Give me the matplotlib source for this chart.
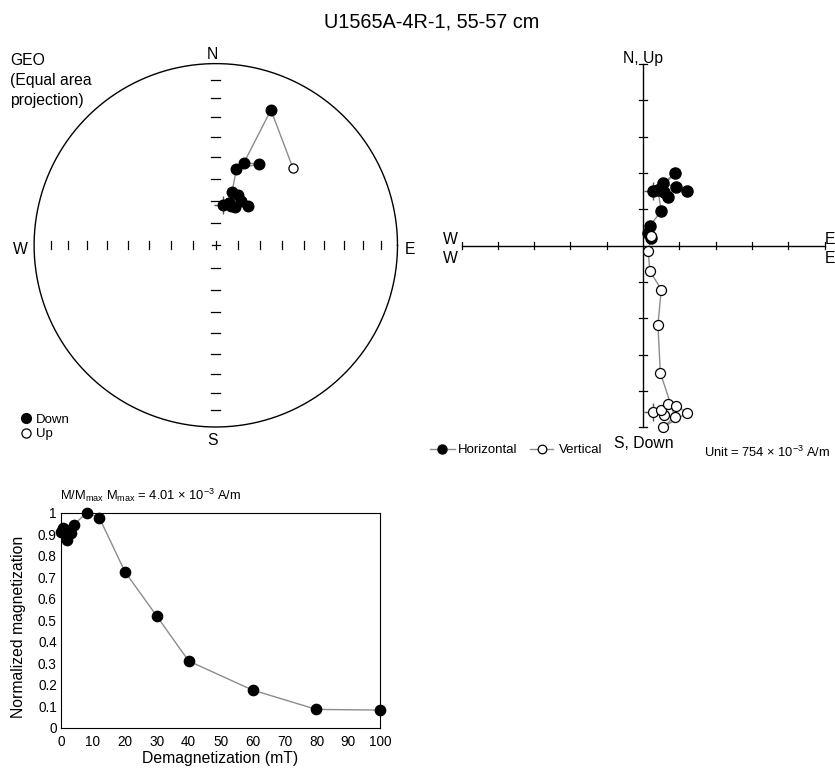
import numpy as np
import matplotlib
matplotlib.use('Agg')
import matplotlib.pyplot as plt

plt.rcParams['font.family'] = ['Liberation Sans', 'DejaVu Sans']
plt.rcParams['mathtext.fontset'] = 'custom'
plt.rcParams['mathtext.rm'] = 'Liberation Sans'
plt.rcParams['mathtext.it'] = 'Liberation Sans:italic'
plt.rcParams['mathtext.bf'] = 'Liberation Sans:bold'

# ---------------- data ----------------
title = "U1565A-4R-1, 55-57 cm"
demag_mT = [0, 0.5, 1, 2, 3, 4, 8, 12, 20, 30, 40, 60, 80, 100]
# vector components (x 10^-3 A/m)
east = [0.20, 0.44, 0.37, 0.51, 0.69, 0.92, 0.42, 0.66, 0.36, 0.31, 0.38, 0.14, 0.11, 0.17]
north = [1.14, 1.12, 1.18, 1.02, 1.22, 1.14, 1.30, 1.50, 1.18, 1.15, 0.72, 0.41, 0.27, 0.17]
up = [-3.46, -3.51, -3.42, -3.29, -3.32, -3.47, -3.77, -3.55, -2.64, -1.64, -0.91, -0.52, -0.11, 0.20]
# normalized intensity M/Mmax
norm_mag = [0.912, 0.93, 0.925, 0.873, 0.904, 0.943, 1.0, 0.977, 0.726, 0.519, 0.31, 0.175, 0.085, 0.082]
zij_unit = 0.754              # Zijderveld tick spacing (x 10^-3 A/m)
inc_ticks = [10, 20, 30, 40, 50, 60, 70, 80]
x_ticks = [0, 10, 20, 30, 40, 50, 60, 70, 80, 90, 100]
y_ticks = [0, 0.1, 0.2, 0.3, 0.4, 0.5, 0.6, 0.7, 0.8, 0.9, 1.0]
y_ticklabels = ['0', '0.1', '0.2', '0.3', '0.4', '0.5', '0.6', '0.7', '0.8', '0.9', '1']

GRAY = '#8c8c8c'
W, H = 835, 772
fig = plt.figure(figsize=(W / 100, H / 100), dpi=100)


def px_axes(left, top, right, bottom):
    return fig.add_axes([left / W, 1 - bottom / H, (right - left) / W, (bottom - top) / H])


E = np.array(east)
N = np.array(north)
U = np.array(up)

# ---------------- stereonet ----------------
R = 181.7
cx, cy = 215.8, 245.3
half = 200
st = px_axes(cx - half, cy - half, cx + half, cy + half)
lim = half / R
st.set_xlim(-lim, lim)
st.set_ylim(-lim, lim)
st.axis('off')
th = np.linspace(0, 2 * np.pi, 500)
st.plot(np.cos(th), np.sin(th), color='black', lw=1.0)
rt = np.sqrt(2) * np.sin(np.radians(90 - np.array(inc_ticks)) / 2)
for r in rt:
    for s in (-1, 1):
        st.plot([s * r, s * r], [-4 / R, 4 / R], color='black', lw=0.9)
        st.plot([-4.5 / R, 4.5 / R], [s * r, s * r], color='black', lw=0.9)
st.plot([-4 / R, 4 / R], [0, 0], color='black', lw=0.9)
st.plot([0, 0], [-4 / R, 4 / R], color='black', lw=0.9)

Hh = np.hypot(E, N)
dec = np.arctan2(E, N)
inc = np.degrees(np.arctan2(-U, Hh))
rr = np.sqrt(2) * np.sin(np.radians(90 - np.abs(inc)) / 2)
sx, sy = rr * np.sin(dec), rr * np.cos(dec)
down = inc >= 0
st.plot(sx, sy, color=GRAY, lw=1.0, zorder=2)
st.plot(sx[0], sy[0], marker='+', ms=13, color='#555555', mew=1.0, zorder=2.5)
st.plot(sx[down], sy[down], 'o', ms=7.6, mfc='black', mec='black', zorder=3)
st.plot(sx[~down], sy[~down], 'o', ms=6.6, mfc='white', mec='black', mew=0.9, zorder=3)

# ---------------- Zijderveld ----------------
zx0, zy0 = 643, 245.7
tick_px = 36.3
halfz = 5.5 * tick_px
zj = px_axes(zx0 - halfz, zy0 - halfz, zx0 + halfz, zy0 + halfz)
zl = 5.5 * zij_unit
zj.set_xlim(-zl, zl)
zj.set_ylim(-zl, zl)
zj.axis('off')
L = 5 * zij_unit
zj.plot([-L, L], [0, 0], color='black', lw=1.0)
zj.plot([0, 0], [-L, L], color='black', lw=1.0)
tk = 3.8 / tick_px * zij_unit
for k in range(-5, 6):
    if k == 0:
        continue
    v = k * zij_unit
    zj.plot([v, v], [-tk, tk], color='black', lw=0.9)
    zj.plot([-tk, tk], [v, v], color='black', lw=0.9)
zj.plot(E, N, color=GRAY, lw=1.0, zorder=2)
zj.plot(E, U, color=GRAY, lw=1.0, zorder=2)
zj.plot(E[0], N[0], marker='+', ms=13, color='#555555', mew=1.0, zorder=2.5)
zj.plot(E[0], U[0], marker='+', ms=13, color='#555555', mew=1.0, zorder=2.5)
zj.plot(E, N, 'o', ms=8.0, mfc='black', mec='black', zorder=3)
zj.plot(E, U, 'o', ms=7.2, mfc='white', mec='black', mew=0.9, zorder=3)

# ---------------- intensity ----------------
mi = px_axes(61, 512.7, 380.3, 727.7)
mi.plot(demag_mT, norm_mag, color=GRAY, lw=1.0, zorder=2, clip_on=False)
mi.plot(demag_mT, norm_mag, 'o', ms=7.4, color='black', zorder=3, clip_on=False)
mi.set_xlim(0, 100)
mi.set_ylim(0, 1)
mi.set_xticks(x_ticks)
mi.set_yticks(y_ticks)
mi.set_yticklabels(y_ticklabels)
mi.tick_params(length=0, labelsize=9.8, pad=3)
mi.tick_params(axis='x', pad=5)
for sp in mi.spines.values():
    sp.set_linewidth(0.8)
    sp.set_color('black')

# ---------------- overlay texts ----------------
ov = fig.add_axes([0, 0, 1, 1])
ov.set_xlim(0, W)
ov.set_ylim(H, 0)
ov.axis('off')

ov.text(432, 22, title, fontsize=14.3, ha='center', va='center')

FS = 11.3
ov.text(10, 65, 'GEO', fontsize=FS, ha='left', va='baseline')
ov.text(10, 85, '(Equal area', fontsize=FS, ha='left', va='baseline')
ov.text(10, 104.5, 'projection)', fontsize=FS, ha='left', va='baseline')
ov.text(212, 59.3, 'N', fontsize=FS, ha='center', va='baseline')
ov.text(212, 445, 'S', fontsize=FS, ha='center', va='baseline')
ov.text(13, 254, 'W', fontsize=FS, ha='left', va='baseline')
ov.text(405, 254, 'E', fontsize=FS, ha='left', va='baseline')

ov.plot(26, 418.3, 'o', ms=7.0, mfc='black', mec='black')
ov.plot(26, 433.3, 'o', ms=6.6, mfc='white', mec='black', mew=0.9)
ov.text(36, 422.7, 'Down', fontsize=9.5, ha='left', va='baseline')
ov.text(36, 437.3, 'Up', fontsize=9.5, ha='left', va='baseline')

ov.text(643, 62.7, 'N, Up', fontsize=FS, ha='center', va='baseline')
ov.text(643.5, 447.7, 'S, Down', fontsize=FS, ha='center', va='baseline')
ov.text(443, 244, 'W', fontsize=FS, ha='left', va='baseline')
ov.text(443, 262.7, 'W', fontsize=FS, ha='left', va='baseline')
ov.text(824.5, 244, 'E', fontsize=FS, ha='left', va='baseline')
ov.text(824.5, 262.7, 'E', fontsize=FS, ha='left', va='baseline')

ov.plot([430, 455], [449, 449], color=GRAY, lw=1.0)
ov.plot(441.7, 449, 'o', ms=6.5, mfc='black', mec='black')
ov.text(457.7, 453.3, 'Horizontal', fontsize=9.5, ha='left', va='baseline')
ov.plot([530, 553], [449, 449], color=GRAY, lw=1.0)
ov.plot(541.7, 449, 'o', ms=6.2, mfc='white', mec='black', mew=0.9)
ov.text(559.3, 453.3, 'Vertical', fontsize=9.5, ha='left', va='baseline')
ov.text(704, 456.7, r'Unit = 754 × 10$^{-3}$ A/m', fontsize=9.3, ha='left', va='baseline')

ov.text(60, 500, r'M/M$_{\mathrm{max}}$ M$_{\mathrm{max}}$ = 4.01 × 10$^{-3}$ A/m',
        fontsize=9.3, ha='left', va='baseline')
ov.text(18.3, 626.7, 'Normalized magnetization', fontsize=11.3, rotation=90,
        ha='center', va='center')
ov.text(220.3, 763.3, 'Demagnetization (mT)', fontsize=11.3, ha='center', va='baseline')

fig.savefig('out.png', dpi=100)
